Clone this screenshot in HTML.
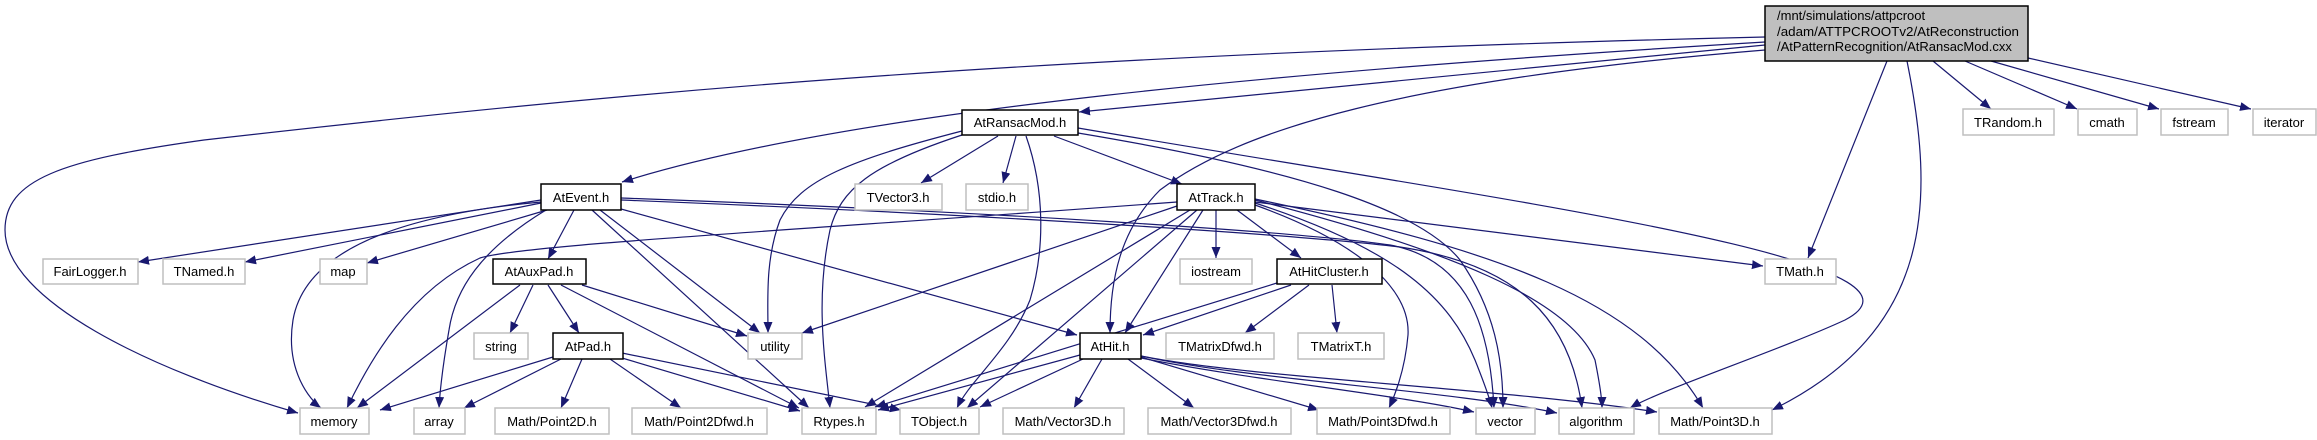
<!DOCTYPE html>
<html><head><meta charset="utf-8"><style>
html,body{margin:0;padding:0;background:#fff;}
svg{display:block;}
text{font-family:"Liberation Sans",sans-serif;font-size:13px;fill:#000;}
.g{fill:#fff;stroke:#bfbfbf;stroke-width:1.5;}
.b{fill:#fff;stroke:#000;stroke-width:1.5;}
path.e{fill:none;stroke:#191970;stroke-width:1.2;marker-end:url(#a);}
</style></head><body>
<svg width="2317" height="440" viewBox="0 0 2317 440" xmlns="http://www.w3.org/2000/svg">
<defs><marker id="a" markerUnits="userSpaceOnUse" markerWidth="12" markerHeight="10" refX="11" refY="4.5" orient="auto"><path d="M0,0 L11,4.5 L0,9 z" fill="#191970"/></marker></defs>

<!-- edges from main -->
<path class="e" d="M1765,37 C1000,55 600,95 204,140 C60,160 5,180 5,230 C5,300 150,370 298,413"/>
<path class="e" d="M1765,42 C1300,70 850,110 622,182"/>
<path class="e" d="M1765,45 C1500,70 1250,95 1079,112"/>
<path class="e" d="M1765,50 C1400,80 1240,130 1160,190 C1120,230 1110,280 1110,333"/>
<path class="e" d="M1887,61 L1808,258"/>
<path class="e" d="M1907,61 C1935,200 1935,330 1772,410"/>
<path class="e" d="M1933,61 L1991,109"/>
<path class="e" d="M1965,61 L2077,109"/>
<path class="e" d="M1991,61 L2159,109"/>
<path class="e" d="M2028,58 L2251,109"/>

<!-- AtRansacMod -->
<path class="e" d="M962,131 C850,160 800,180 780,220 C765,260 768,300 768,333"/>
<path class="e" d="M962,135 C870,165 840,190 830,230 C815,300 825,360 830,408"/>
<path class="e" d="M998,136 L921,183"/>
<path class="e" d="M1016,136 L1003,183"/>
<path class="e" d="M1026,136 C1045,190 1045,250 1030,300 C1010,350 970,380 957,408"/>
<path class="e" d="M1054,136 L1182,184"/>
<path class="e" d="M1078,128 C1500,200 1960,260 1845,320 C1780,350 1660,390 1630,408"/>
<path class="e" d="M1078,133 C1300,170 1420,210 1460,260 C1495,310 1503,360 1503,408"/>

<!-- AtEvent -->
<path class="e" d="M541,200 L138,262"/>
<path class="e" d="M541,203 L245,262"/>
<path class="e" d="M547,210 L367,263"/>
<path class="e" d="M541,202 C400,215 305,250 293,320 C285,370 310,400 321,408"/>
<path class="e" d="M546,210 C480,250 455,290 449,330 C442,370 440,390 439,408"/>
<path class="e" d="M574,210 L548,259"/>
<path class="e" d="M600,210 L760,333"/>
<path class="e" d="M592,210 L809,408"/>
<path class="e" d="M621,209 L1077,335"/>
<path class="e" d="M621,200 C1000,215 1300,235 1400,247 C1520,265 1570,320 1582,408"/>
<path class="e" d="M621,198 C1000,212 1300,232 1390,245 C1470,260 1490,330 1494,408"/>

<!-- AtAuxPad -->
<path class="e" d="M520,285 L357,408"/>
<path class="e" d="M533,285 L510,333"/>
<path class="e" d="M548,285 L579,333"/>
<path class="e" d="M582,285 L747,336"/>
<path class="e" d="M561,285 L799,408"/>

<!-- AtPad -->
<path class="e" d="M553,357 L380,410"/>
<path class="e" d="M561,359 L464,408"/>
<path class="e" d="M582,359 L561,408"/>
<path class="e" d="M610,359 L681,408"/>
<path class="e" d="M622,358 L800,411"/>
<path class="e" d="M622,353 L901,410"/>

<!-- AtTrack -->
<path class="e" d="M1177,202 C800,230 520,245 480,258 C410,290 370,360 347,408"/>
<path class="e" d="M1177,206 L802,333"/>
<path class="e" d="M1190,210 L865,407"/>
<path class="e" d="M1197,210 L967,408"/>
<path class="e" d="M1203,210 L1125,333"/>
<path class="e" d="M1216,210 L1216,258"/>
<path class="e" d="M1237,210 L1301,258"/>
<path class="e" d="M1255,202 L1763,266"/>
<path class="e" d="M1255,205 C1380,250 1410,300 1408,335 C1405,370 1395,395 1389,408"/>
<path class="e" d="M1255,203 C1400,250 1450,300 1475,360 C1485,385 1490,400 1492,408"/>
<path class="e" d="M1255,200 C1450,250 1570,300 1595,360 C1600,385 1602,400 1602,408"/>
<path class="e" d="M1255,199 C1500,250 1640,300 1703,408"/>

<!-- AtHitCluster -->
<path class="e" d="M1277,283 L875,407"/>
<path class="e" d="M1291,285 L1143,335"/>
<path class="e" d="M1309,285 L1245,333"/>
<path class="e" d="M1332,285 L1337,333"/>

<!-- AtHit -->
<path class="e" d="M1080,355 L878,410"/>
<path class="e" d="M1083,359 L980,407"/>
<path class="e" d="M1102,359 L1074,408"/>
<path class="e" d="M1128,359 L1194,408"/>
<path class="e" d="M1141,357 L1319,410"/>
<path class="e" d="M1141,358 C1250,380 1400,395 1474,412"/>
<path class="e" d="M1141,356 C1250,380 1450,390 1557,413"/>
<path class="e" d="M1141,356 C1250,378 1500,388 1657,412"/>

<!-- nodes -->
<rect x="1765" y="6" width="263" height="55" fill="#bfbfbf" stroke="#000" stroke-width="1.5"/>
<text x="1777" y="20">/mnt/simulations/attpcroot</text>
<text x="1777" y="36" textLength="242" lengthAdjust="spacingAndGlyphs">/adam/ATTPCROOTv2/AtReconstruction</text>
<text x="1777" y="51">/AtPatternRecognition/AtRansacMod.cxx</text>

<g text-anchor="middle">
<rect class="b" x="962" y="110" width="116" height="25"/><text x="1020" y="127">AtRansacMod.h</text>
<rect class="b" x="541" y="184" width="80" height="26"/><text x="581" y="202">AtEvent.h</text>
<rect class="g" x="855" y="184" width="87" height="26"/><text x="898" y="202">TVector3.h</text>
<rect class="g" x="966" y="184" width="62" height="26"/><text x="997" y="202">stdio.h</text>
<rect class="b" x="1177" y="184" width="78" height="26"/><text x="1216" y="202">AtTrack.h</text>
<rect class="g" x="43" y="259" width="95" height="25"/><text x="90" y="276">FairLogger.h</text>
<rect class="g" x="163" y="259" width="82" height="25"/><text x="204" y="276">TNamed.h</text>
<rect class="g" x="320" y="259" width="47" height="25"/><text x="343" y="276">map</text>
<rect class="b" x="493" y="259" width="93" height="25"/><text x="539" y="276">AtAuxPad.h</text>
<rect class="g" x="1180" y="259" width="72" height="25"/><text x="1216" y="276">iostream</text>
<rect class="b" x="1277" y="259" width="105" height="25"/><text x="1329" y="276">AtHitCluster.h</text>
<rect class="g" x="1765" y="259" width="71" height="25"/><text x="1800" y="276">TMath.h</text>
<rect class="g" x="1963" y="109" width="91" height="26"/><text x="2008" y="127">TRandom.h</text>
<rect class="g" x="2078" y="109" width="59" height="26"/><text x="2107" y="127">cmath</text>
<rect class="g" x="2161" y="109" width="67" height="26"/><text x="2194" y="127">fstream</text>
<rect class="g" x="2253" y="109" width="63" height="26"/><text x="2284" y="127">iterator</text>
<rect class="g" x="474" y="333" width="54" height="26"/><text x="501" y="351">string</text>
<rect class="b" x="553" y="333" width="70" height="26"/><text x="588" y="351">AtPad.h</text>
<rect class="g" x="748" y="333" width="54" height="26"/><text x="775" y="351">utility</text>
<rect class="b" x="1080" y="333" width="61" height="26"/><text x="1110" y="351">AtHit.h</text>
<rect class="g" x="1166" y="333" width="108" height="26"/><text x="1220" y="351">TMatrixDfwd.h</text>
<rect class="g" x="1298" y="333" width="86" height="26"/><text x="1341" y="351">TMatrixT.h</text>
<rect class="g" x="300" y="408" width="69" height="26"/><text x="334" y="426">memory</text>
<rect class="g" x="414" y="408" width="51" height="26"/><text x="439" y="426">array</text>
<rect class="g" x="495" y="408" width="114" height="26"/><text x="552" y="426">Math/Point2D.h</text>
<rect class="g" x="632" y="408" width="135" height="26"/><text x="699" y="426">Math/Point2Dfwd.h</text>
<rect class="g" x="802" y="408" width="74" height="26"/><text x="839" y="426">Rtypes.h</text>
<rect class="g" x="900" y="408" width="79" height="26"/><text x="939" y="426">TObject.h</text>
<rect class="g" x="1003" y="408" width="121" height="26"/><text x="1063" y="426">Math/Vector3D.h</text>
<rect class="g" x="1148" y="408" width="143" height="26"/><text x="1219" y="426">Math/Vector3Dfwd.h</text>
<rect class="g" x="1317" y="408" width="133" height="26"/><text x="1383" y="426">Math/Point3Dfwd.h</text>
<rect class="g" x="1476" y="408" width="59" height="26"/><text x="1505" y="426">vector</text>
<rect class="g" x="1559" y="408" width="75" height="26"/><text x="1596" y="426">algorithm</text>
<rect class="g" x="1659" y="408" width="113" height="26"/><text x="1715" y="426">Math/Point3D.h</text>
</g>
</svg>
</body></html>
